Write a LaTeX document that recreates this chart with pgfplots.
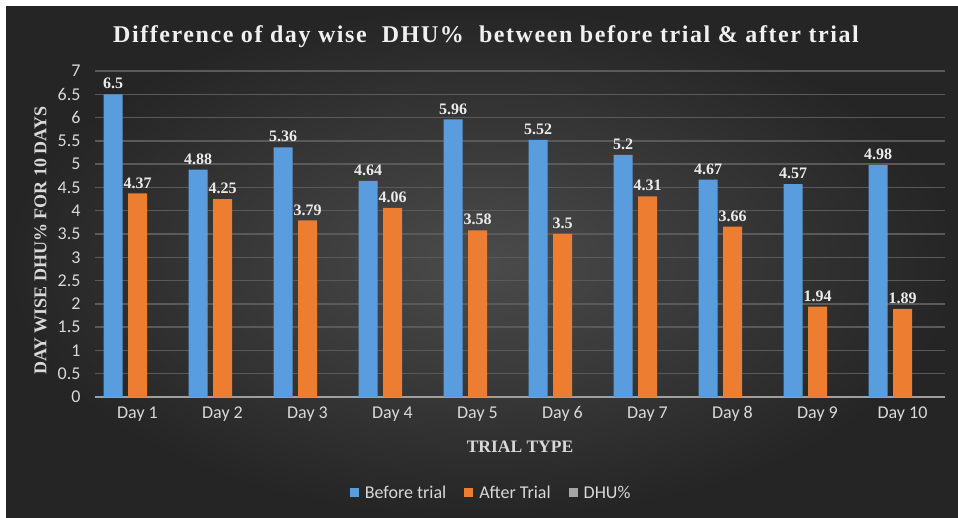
\documentclass[border=0pt]{standalone}
\usepackage{fontspec}
\setmainfont{Carlito}
\newfontfamily\serif{Liberation Serif}
\newfontfamily\titlefont[LetterSpace=6.5]{Liberation Serif}
\usepackage{pgfplots}
\pgfplotsset{compat=1.18}
\definecolor{bgin}{HTML}{4B4B4B}
\definecolor{bgout}{HTML}{252525}
\definecolor{cblue}{HTML}{5A9DDE}
\definecolor{corange}{HTML}{ED7D31}
\definecolor{cgray}{HTML}{A5A5A5}
\definecolor{gridc}{HTML}{5A5A5A}
\definecolor{txt}{HTML}{D9D9D9}
\begin{document}
\begin{tikzpicture}
\fill[white] (0pt,0pt) rectangle (958pt,-518pt);
\shade[inner color=bgin, outer color=bgout] (6pt,-7pt) rectangle (958pt,-518pt);
\begin{axis}[
  at={(95pt,-397pt)}, anchor=south west,
  scale only axis, width=850pt, height=326pt,
  xmin=-0.5, xmax=9.5, ymin=0, ymax=7,
  enlargelimits=false,
  xtick={0,1,2,3,4,5,6,7,8,9},
  xticklabels={Day 1,Day 2,Day 3,Day 4,Day 5,Day 6,Day 7,Day 8,Day 9,Day 10},
  ytick={0,0.5,1,1.5,2,2.5,3,3.5,4,4.5,5,5.5,6,6.5,7},
  /pgf/number format/assume math mode=true,
  axis lines*=left,
  y axis line style={draw=none},
  x axis line style={draw=gray!75, line width=1.6pt, -},
  major tick length=0pt,
  ymajorgrids,
  grid style={draw=gridc, line width=1.4pt},
  tick label style={font=\fontsize{18}{20}\selectfont, text=txt},
  xticklabel style={yshift=-6pt},
  yticklabel style={xshift=-11pt},
  title={\titlefont\bfseries Difference of day wise\ \ DHU\%\ \ between before trial \& after trial},
  title style={at={(0.46,1.087)}, anchor=center, font=\fontsize{24}{27}\selectfont, text=white!94!black},
  xlabel={TRIAL TYPE},
  xlabel style={at={(0.5,-0.153)}, anchor=center, font=\serif\bfseries\fontsize{17.5}{19}\selectfont, text=txt},
  ylabel={DAY WISE DHU\% FOR 10 DAYS},
  ylabel style={at={(-0.064,0.479)}, anchor=center, font=\serif\bfseries\fontsize{18}{20}\selectfont, text=txt},
  legend style={at={(0.466,-0.294)}, anchor=center, draw=none, fill=none,
    legend columns=3, font=\fontsize{18}{20}\selectfont, text=txt,
    /tikz/every odd column/.append style={column sep=4pt},
    /tikz/every even column/.append style={column sep=16pt}},
  legend image code/.code={\fill[#1] (0pt,-4.5pt) rectangle (9pt,4.5pt);},
  nodes near coords style={font=\serif\bfseries\fontsize{16}{18}\selectfont, text=white!92!black, anchor=south, inner sep=1pt, yshift=4pt},
]
\addplot[ybar, bar width=19pt, bar shift=-24.5pt, fill=cblue, draw=none, nodes near coords,
  every node near coord/.append style={xshift=-24.5pt}]
  coordinates {(0,6.5) (1,4.88) (2,5.36) (3,4.64) (4,5.96) (5,5.52) (6,5.2) (7,4.67) (8,4.57) (9,4.98)};
\addlegendentry{Before trial}
\addplot[ybar, bar width=19pt, bar shift=0pt, fill=corange, draw=none, nodes near coords]
  coordinates {(0,4.37) (1,4.25) (2,3.79) (3,4.06) (4,3.58) (5,3.5) (6,4.31) (7,3.66) (8,1.94) (9,1.89)};
\addlegendentry{After Trial}
\addlegendimage{fill=cgray, draw=none}
\addlegendentry{DHU\%}
\end{axis}
\pgfresetboundingbox
\path (0pt,0pt) rectangle (958pt,-518pt);
\end{tikzpicture}
\end{document}
